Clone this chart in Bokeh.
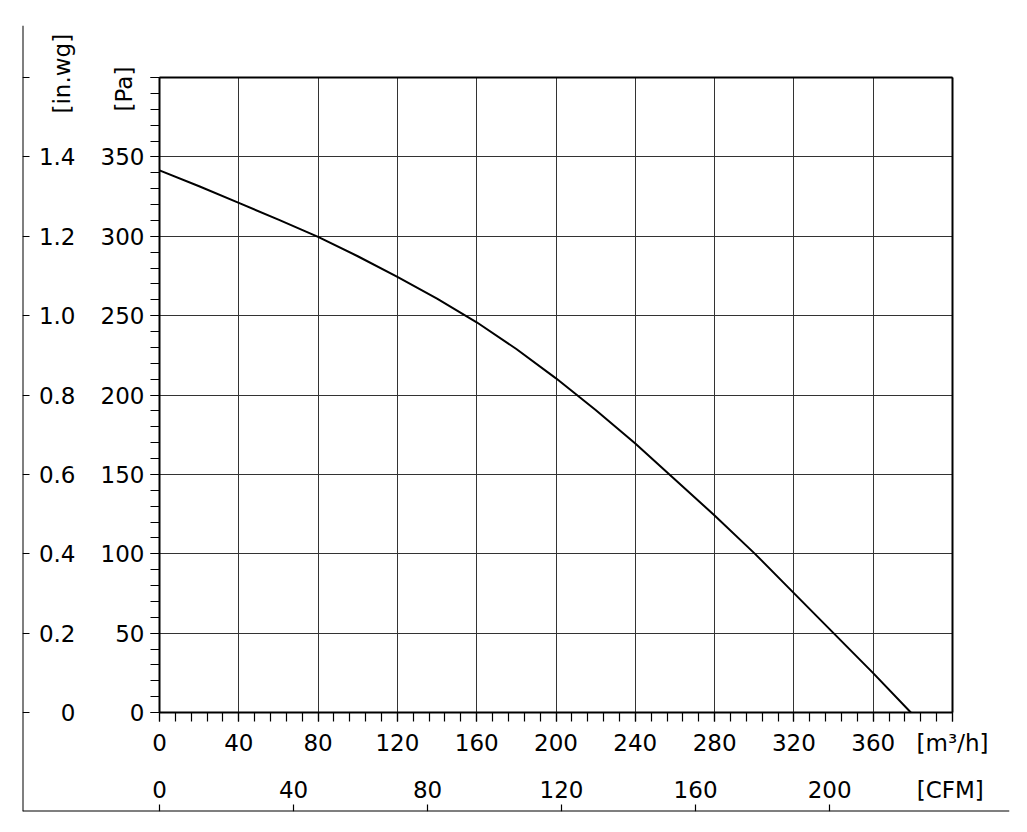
import math
from bokeh.plotting import figure
from bokeh.models import LinearAxis, Range1d, FixedTicker, Label, Grid
from bokeh.embed import file_html
from bokeh.resources import INLINE

# ---------------- data ----------------
flow_m3h = [0, 20, 40, 60, 80, 100, 120, 140, 160, 180, 200, 220, 240, 260, 280, 300, 320, 340, 360, 379]
pressure_pa = [341.5, 331.5, 321, 310.5, 299.6, 287.4, 274.4, 260.7, 245.8, 229, 210.5, 190.6, 169.5, 146.8,
               124.1, 100.4, 75.2, 50, 24.8, 0]

pa_ticks = [0, 50, 100, 150, 200, 250, 300, 350, 400]
pa_labels = ["0", "50", "100", "150", "200", "250", "300", "350", ""]
inwg_labels = ["0", "0.2", "0.4", "0.6", "0.8", "1.0", "1.2", "1.4", ""]
m3h_ticks = [0, 40, 80, 120, 160, 200, 240, 280, 320, 360, 400]
m3h_labels = ["0", "40", "80", "120", "160", "200", "240", "280", "320", "360", "[m³/h]"]
cfm_ticks = [0, 40, 80, 120, 160, 200]
cfm_labels = ["0", "40", "80", "120", "160", "200"]
cfm_unit_pos = 236
M3H_PER_CFM = 1.69

# ---------------- layout (pixels) ----------------
W, H = 1027, 832
CL, CT, CR, CB = 159, 77, 952, 712      # chart box
OL, OT, OR, OB = 22, 25, 1009, 811      # outer L-frame
X_MAX, Y_MAX = 400, 400
FONT = "DejaVu Sans"
FS = "23px"

def xd(px):
    return (px - CL) * X_MAX / (CR - CL)

def yd(py):
    return (CB - py) * Y_MAX / (CB - CT)

p = figure(width=W, height=H, output_backend="svg", toolbar_location=None,
           x_axis_type=None, y_axis_type=None,
           x_range=Range1d(xd(OL), xd(OR)), y_range=Range1d(yd(OB), yd(OT)),
           min_border_left=OL, min_border_right=W - OR, min_border_top=OT, min_border_bottom=H - OB)
p.extra_x_ranges = {"cfm": Range1d(xd(OL) / M3H_PER_CFM, xd(OR) / M3H_PER_CFM)}
p.background_fill_color = "white"
p.border_fill_color = "white"
p.outline_line_color = None

def no_ticks(ax):
    ax.major_tick_line_color = None
    ax.minor_tick_line_color = None
    ax.major_tick_in = 0
    ax.major_tick_out = 0
    ax.minor_tick_in = 0
    ax.minor_tick_out = 0

def style_text(ax):
    ax.major_label_text_font = FONT
    ax.major_label_text_font_size = FS
    ax.major_label_text_color = "black"

def style_ticks(ax, tin, tout, width=1.2):
    ax.major_tick_in = tin
    ax.major_tick_out = tout
    ax.minor_tick_in = tin
    ax.minor_tick_out = tout
    ax.major_tick_line_color = "black"
    ax.minor_tick_line_color = "black"
    ax.major_tick_line_width = width
    ax.minor_tick_line_width = width

# ---- grid inside the chart box ----
p.add_layout(Grid(dimension=0, ticker=FixedTicker(ticks=m3h_ticks), bounds=(0, X_MAX),
                  cross_bounds=(0, Y_MAX), grid_line_color="#333333", grid_line_width=1))
p.add_layout(Grid(dimension=1, ticker=FixedTicker(ticks=pa_ticks), bounds=(0, Y_MAX),
                  cross_bounds=(0, X_MAX), grid_line_color="#333333", grid_line_width=1))

# ---- Pa axis (left edge of chart box) ----
pa_ax = LinearAxis(fixed_location=0, bounds=(0, Y_MAX),
                   ticker=FixedTicker(ticks=pa_ticks, minor_ticks=list(range(0, 401, 10))),
                   major_label_overrides={t: l for t, l in zip(pa_ticks, pa_labels)},
                   major_label_standoff=6, axis_line_color="black", axis_line_width=2)
style_ticks(pa_ax, 0, 9)
style_text(pa_ax)
p.add_layout(pa_ax, "left")

# ---- in.wg labels ----
iw_ax = LinearAxis(fixed_location=xd(80), ticker=FixedTicker(ticks=pa_ticks, minor_ticks=[]),
                   major_label_overrides={t: l for t, l in zip(pa_ticks, inwg_labels)},
                   major_label_standoff=5, axis_line_color=None)
no_ticks(iw_ax)
style_text(iw_ax)
p.add_layout(iw_ax, "left")

# ---- m3/h axis (bottom edge of chart box) ----
x_ax = LinearAxis(fixed_location=0, bounds=(0, X_MAX),
                  ticker=FixedTicker(ticks=m3h_ticks, minor_ticks=list(range(0, 401, 8))),
                  major_label_overrides={t: l for t, l in zip(m3h_ticks, m3h_labels)},
                  major_label_standoff=8, axis_line_color="black", axis_line_width=2)
style_ticks(x_ax, 0, 9)
style_text(x_ax)
p.add_layout(x_ax, "below")

# ---- CFM labels ----
ct = cfm_ticks + [cfm_unit_pos]
cl = cfm_labels + ["[CFM]"]
c_ax = LinearAxis(x_range_name="cfm", fixed_location=0,
                  ticker=FixedTicker(ticks=ct, minor_ticks=[]),
                  major_label_overrides={t: l for t, l in zip(ct, cl)},
                  major_label_standoff=64, axis_line_color=None)
no_ticks(c_ax)
style_text(c_ax)
p.add_layout(c_ax, "below")

# ---- top and right edges of chart box ----
top_ax = LinearAxis(fixed_location=Y_MAX, bounds=(0, X_MAX), ticker=FixedTicker(ticks=[]),
                    axis_line_color="black", axis_line_width=2)
no_ticks(top_ax)
p.add_layout(top_ax, "above")
right_ax = LinearAxis(fixed_location=X_MAX, bounds=(0, Y_MAX), ticker=FixedTicker(ticks=[]),
                      axis_line_color="black", axis_line_width=2)
no_ticks(right_ax)
p.add_layout(right_ax, "right")

# ---- outer L-frame with inward ticks ----
ol_ax = LinearAxis(fixed_location=xd(OL), ticker=FixedTicker(ticks=pa_ticks, minor_ticks=[]),
                   major_label_overrides={t: "" for t in pa_ticks},
                   axis_line_color="black", axis_line_width=2)
style_ticks(ol_ax, 7, 0)
p.add_layout(ol_ax, "left")
ob_ax = LinearAxis(x_range_name="cfm", fixed_location=yd(OB), ticker=FixedTicker(ticks=cfm_ticks, minor_ticks=[]),
                   major_label_overrides={t: "" for t in cfm_ticks},
                   axis_line_color="black", axis_line_width=2)
style_ticks(ob_ax, 7, 0)
p.add_layout(ob_ax, "below")

# ---- rotated unit labels ----
p.add_layout(Label(x=xd(61), y=yd(113), text="[in.wg]", angle=math.pi / 2, text_align="left",
                   text_baseline="middle", text_font=FONT, text_font_size=FS, text_color="black"))
p.add_layout(Label(x=xd(123), y=yd(111), text="[Pa]", angle=math.pi / 2, text_align="left",
                   text_baseline="middle", text_font=FONT, text_font_size=FS, text_color="black"))

# ---- curve ----
p.line(flow_m3h, pressure_pa, line_color="black", line_width=2)

open("out.html", "w").write(file_html(p, INLINE))
